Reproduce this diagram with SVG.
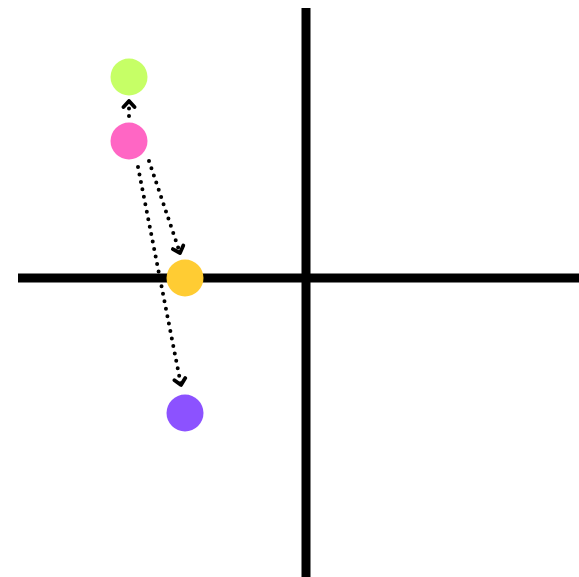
<svg xmlns="http://www.w3.org/2000/svg" width="579" height="577" viewBox="0 0 579 577">
<style>
.axis{stroke:#000;stroke-width:9;fill:none}
.edge{stroke:#000;stroke-width:4;stroke-linecap:round;stroke-dasharray:0 7.6;fill:none}
</style>
<defs>
<marker id="chev" viewBox="-9 -8 11 16" markerWidth="11" markerHeight="16" refX="0" refY="0" orient="auto" markerUnits="userSpaceOnUse">
<path d="M-6,-5.5 L0,0 L-6,5.5" fill="none" stroke="#000" stroke-width="3.8" stroke-linecap="round" stroke-linejoin="round"/>
</marker>
</defs>
<rect width="579" height="577" fill="#fff"/>
<g id="axes">
<line class="axis" x1="306" y1="8" x2="306" y2="577"/>
<line class="axis" x1="18" y1="278" x2="579" y2="278"/>
</g>
<g id="connectors">
<path class="edge" d="M129,116 L129,101" marker-end="url(#chev)"/>
<path class="edge" d="M149,161 L180,253" marker-end="url(#chev)"/>
<path class="edge" d="M138,167 L181,385" marker-end="url(#chev)"/>
</g>
<g id="n-green"><circle cx="129" cy="77" r="18.5" fill="#c6ff66"/></g>
<g id="n-pink"><circle cx="129" cy="141" r="18.5" fill="#ff66c4"/></g>
<g id="n-yellow"><circle cx="185" cy="278" r="18.5" fill="#ffcc33"/></g>
<g id="n-purple"><circle cx="185" cy="413" r="18.5" fill="#8c52ff"/></g>
</svg>
